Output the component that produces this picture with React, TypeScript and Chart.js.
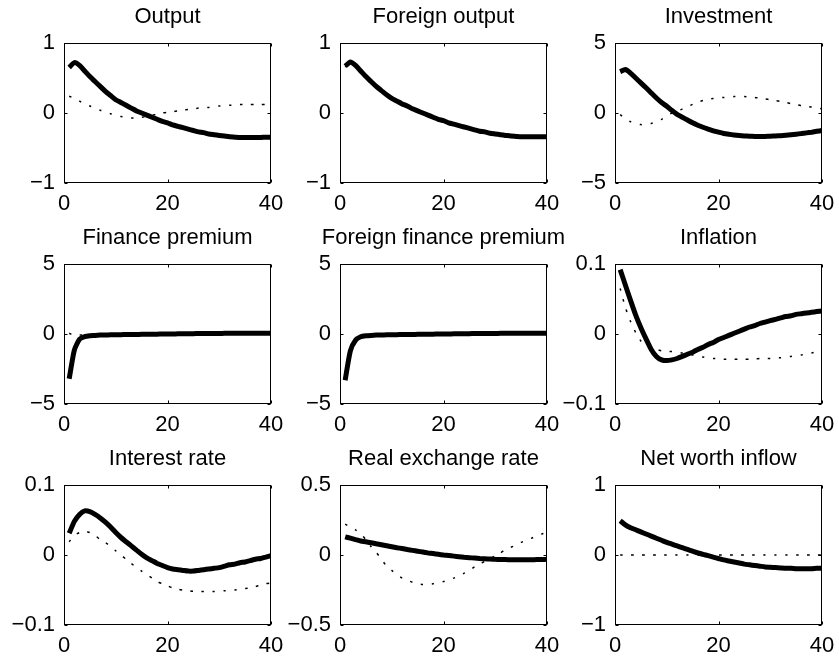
import React, { useEffect, useRef } from 'react';
import { Chart, registerables } from 'chart.js';

Chart.register(...registerables);

const FONT = '"Liberation Sans", Arial, Helvetica, sans-serif';

// ---------- data ----------
const periods = [1, 2, 3, 4, 5, 6, 7, 8, 9, 10, 11, 12, 13, 14, 15, 16, 17, 18, 19, 20, 21, 22, 23, 24, 25, 26, 27, 28, 29, 30, 31, 32, 33, 34, 35, 36, 37, 38, 39, 40];
const xTicks = [0, 20, 40];

const titles = ['Output', 'Foreign output', 'Investment', 'Finance premium', 'Foreign finance premium', 'Inflation', 'Interest rate', 'Real exchange rate', 'Net worth inflow'];

const yTicksOutput = [-1, 0, 1];
const yTicksForeignOutput = [-1, 0, 1];
const yTicksInvestment = [-5, 0, 5];
const yTicksFinance = [-5, 0, 5];
const yTicksForeignFinance = [-5, 0, 5];
const yTicksInflation = [-0.1, 0, 0.1];
const yTicksInterest = [-0.1, 0, 0.1];
const yTicksRer = [-0.5, 0, 0.5];
const yTicksNetWorth = [-1, 0, 1];

const outputSolid = [0.65, 0.72, 0.68, 0.60, 0.52, 0.45, 0.38, 0.31, 0.25, 0.19, 0.15, 0.11, 0.07, 0.03, 0.00, -0.03, -0.06, -0.09, -0.12, -0.14, -0.17, -0.19, -0.21, -0.23, -0.25, -0.27, -0.28, -0.30, -0.31, -0.32, -0.33, -0.34, -0.345, -0.35, -0.35, -0.35, -0.35, -0.35, -0.345, -0.345];
const outputDotted = [0.24, 0.21, 0.17, 0.13, 0.10, 0.07, 0.04, 0.02, -0.01, -0.03, -0.05, -0.06, -0.07, -0.07, -0.06, -0.05, -0.03, -0.02, 0.00, 0.01, 0.02, 0.03, 0.04, 0.05, 0.06, 0.07, 0.08, 0.08, 0.09, 0.10, 0.10, 0.11, 0.11, 0.12, 0.12, 0.12, 0.12, 0.12, 0.12, 0.12];

const foreignOutputSolid = [0.67, 0.73, 0.68, 0.60, 0.52, 0.45, 0.38, 0.32, 0.26, 0.21, 0.17, 0.13, 0.10, 0.06, 0.03, 0.00, -0.03, -0.06, -0.09, -0.11, -0.14, -0.16, -0.18, -0.20, -0.22, -0.24, -0.26, -0.27, -0.29, -0.30, -0.31, -0.32, -0.33, -0.335, -0.34, -0.34, -0.34, -0.34, -0.34, -0.34];
const foreignOutputDotted = [0.66, 0.72, 0.67, 0.59, 0.51, 0.44, 0.37, 0.31, 0.25, 0.20, 0.16, 0.12, 0.09, 0.05, 0.02, -0.01, -0.04, -0.07, -0.10, -0.12, -0.15, -0.17, -0.19, -0.21, -0.23, -0.25, -0.27, -0.28, -0.30, -0.31, -0.32, -0.33, -0.34, -0.345, -0.35, -0.35, -0.35, -0.35, -0.35, -0.35];

const investmentSolid = [2.95, 3.10, 2.85, 2.50, 2.15, 1.80, 1.43, 1.07, 0.75, 0.48, 0.18, -0.10, -0.30, -0.50, -0.70, -0.87, -1.02, -1.15, -1.27, -1.37, -1.46, -1.52, -1.57, -1.61, -1.64, -1.66, -1.67, -1.67, -1.67, -1.66, -1.64, -1.62, -1.59, -1.55, -1.51, -1.47, -1.42, -1.37, -1.31, -1.25];
const investmentDotted = [-0.12, -0.40, -0.62, -0.76, -0.83, -0.82, -0.75, -0.62, -0.45, -0.22, 0.00, 0.12, 0.28, 0.45, 0.62, 0.78, 0.90, 1.00, 1.04, 1.07, 1.11, 1.14, 1.17, 1.19, 1.17, 1.14, 1.11, 1.06, 1.01, 0.95, 0.89, 0.83, 0.75, 0.67, 0.60, 0.52, 0.47, 0.43, 0.37, 0.30];

const financeSolid = [-3.20, -1.15, -0.38, -0.18, -0.12, -0.10, -0.08, -0.07, -0.06, -0.05, -0.045, -0.04, -0.035, -0.03, -0.025, -0.02, -0.015, -0.01, -0.005, 0.00, 0.005, 0.01, 0.015, 0.02, 0.025, 0.03, 0.03, 0.035, 0.04, 0.04, 0.045, 0.045, 0.05, 0.05, 0.05, 0.055, 0.055, 0.06, 0.06, 0.06];
const financeDotted = [0.05, -0.10, -0.08, -0.05, -0.03, -0.02, -0.01, 0.00, 0.00, 0.00, 0.00, 0.00, 0.00, 0.00, 0.00, 0.00, 0.005, 0.005, 0.005, 0.005, 0.01, 0.01, 0.01, 0.01, 0.01, 0.01, 0.015, 0.015, 0.015, 0.015, 0.015, 0.02, 0.02, 0.02, 0.02, 0.02, 0.02, 0.02, 0.02, 0.02];

const foreignFinanceSolid = [-3.30, -1.20, -0.45, -0.20, -0.13, -0.10, -0.08, -0.07, -0.06, -0.05, -0.045, -0.04, -0.035, -0.03, -0.025, -0.02, -0.015, -0.01, -0.005, 0.00, 0.005, 0.01, 0.015, 0.02, 0.025, 0.03, 0.03, 0.035, 0.04, 0.04, 0.045, 0.045, 0.05, 0.05, 0.05, 0.055, 0.055, 0.06, 0.06, 0.06];
const foreignFinanceDotted = [-3.25, -1.15, -0.42, -0.19, -0.12, -0.09, -0.07, -0.06, -0.05, -0.045, -0.04, -0.035, -0.03, -0.025, -0.02, -0.015, -0.01, -0.005, 0.00, 0.005, 0.01, 0.015, 0.02, 0.02, 0.025, 0.03, 0.03, 0.035, 0.035, 0.04, 0.04, 0.045, 0.045, 0.05, 0.05, 0.05, 0.055, 0.055, 0.055, 0.055];

const inflationSolid = [0.092, 0.070, 0.048, 0.027, 0.009, -0.007, -0.022, -0.032, -0.037, -0.038, -0.037, -0.035, -0.032, -0.029, -0.026, -0.022, -0.019, -0.015, -0.012, -0.008, -0.005, -0.002, 0.001, 0.004, 0.007, 0.010, 0.012, 0.015, 0.017, 0.019, 0.021, 0.023, 0.025, 0.026, 0.028, 0.029, 0.030, 0.031, 0.032, 0.033];
const inflationDotted = [0.065, 0.038, 0.018, 0.002, -0.010, -0.016, -0.020, -0.022, -0.024, -0.025, -0.025, -0.026, -0.027, -0.029, -0.030, -0.032, -0.033, -0.034, -0.035, -0.035, -0.036, -0.036, -0.036, -0.036, -0.036, -0.036, -0.036, -0.035, -0.035, -0.035, -0.034, -0.034, -0.033, -0.032, -0.031, -0.030, -0.028, -0.027, -0.025, -0.022];

const interestSolid = [0.031, 0.048, 0.058, 0.063, 0.062, 0.058, 0.053, 0.047, 0.040, 0.032, 0.025, 0.019, 0.013, 0.007, 0.001, -0.004, -0.008, -0.012, -0.015, -0.018, -0.020, -0.021, -0.022, -0.023, -0.023, -0.022, -0.021, -0.020, -0.019, -0.018, -0.016, -0.014, -0.013, -0.011, -0.010, -0.008, -0.006, -0.005, -0.003, -0.001];
const interestDotted = [0.019, 0.028, 0.032, 0.034, 0.032, 0.028, 0.022, 0.018, 0.012, 0.006, 0.000, -0.006, -0.012, -0.018, -0.023, -0.028, -0.033, -0.038, -0.041, -0.044, -0.047, -0.049, -0.050, -0.051, -0.052, -0.052, -0.052, -0.052, -0.052, -0.052, -0.051, -0.051, -0.050, -0.049, -0.048, -0.047, -0.045, -0.043, -0.041, -0.040];

const rerSolid = [0.13, 0.12, 0.11, 0.10, 0.095, 0.088, 0.08, 0.073, 0.066, 0.059, 0.052, 0.046, 0.039, 0.033, 0.027, 0.021, 0.015, 0.01, 0.005, 0.00, -0.004, -0.008, -0.012, -0.016, -0.019, -0.022, -0.025, -0.027, -0.029, -0.031, -0.032, -0.033, -0.034, -0.034, -0.034, -0.034, -0.034, -0.033, -0.032, -0.031];
const rerDotted = [0.22, 0.20, 0.18, 0.15, 0.11, 0.06, 0.02, -0.03, -0.08, -0.11, -0.14, -0.165, -0.18, -0.195, -0.205, -0.21, -0.21, -0.205, -0.195, -0.19, -0.18, -0.165, -0.15, -0.13, -0.11, -0.085, -0.065, -0.045, -0.025, -0.005, 0.015, 0.04, 0.055, 0.07, 0.09, 0.105, 0.12, 0.135, 0.15, 0.16];

const netWorthSolid = [0.49, 0.43, 0.39, 0.36, 0.33, 0.30, 0.27, 0.24, 0.21, 0.18, 0.155, 0.13, 0.105, 0.08, 0.055, 0.03, 0.01, -0.01, -0.03, -0.05, -0.07, -0.085, -0.10, -0.115, -0.13, -0.14, -0.15, -0.16, -0.17, -0.175, -0.18, -0.185, -0.19, -0.19, -0.195, -0.195, -0.195, -0.195, -0.19, -0.19];
const netWorthDotted = [0, 0, 0, 0, 0, 0, 0, 0, 0, 0, 0, 0, 0, 0, 0, 0, 0, 0, 0, 0, 0, 0, 0, 0, 0, 0, 0, 0, 0, 0, 0, 0, 0, 0, 0, 0, 0, 0, 0, 0];

const panels = [
  { title: titles[0], solid: outputSolid, dotted: outputDotted, yTicks: yTicksOutput },
  { title: titles[1], solid: foreignOutputSolid, dotted: foreignOutputDotted, yTicks: yTicksForeignOutput },
  { title: titles[2], solid: investmentSolid, dotted: investmentDotted, yTicks: yTicksInvestment },
  { title: titles[3], solid: financeSolid, dotted: financeDotted, yTicks: yTicksFinance },
  { title: titles[4], solid: foreignFinanceSolid, dotted: foreignFinanceDotted, yTicks: yTicksForeignFinance },
  { title: titles[5], solid: inflationSolid, dotted: inflationDotted, yTicks: yTicksInflation },
  { title: titles[6], solid: interestSolid, dotted: interestDotted, yTicks: yTicksInterest },
  { title: titles[7], solid: rerSolid, dotted: rerDotted, yTicks: yTicksRer },
  { title: titles[8], solid: netWorthSolid, dotted: netWorthDotted, yTicks: yTicksNetWorth },
];

// ---------- layout ----------
const PLOT_LEFTS = [64, 340, 615];
const PLOT_TOPS = [43, 264, 485];
const PLOT_W = 207;
const PLOT_H = 140;
const PAD_L = 64;
const PAD_T = 43;
const PAD_R = 30;
const PAD_B = 40;

function fmt(v: number): string {
  if (v === 0) return '0';
  return v < 0 ? '\u2212' + String(Math.abs(v)) : String(v);
}

const matlabBox = {
  id: 'matlabBox',
  afterDraw(chart: any, _args: any, opts: any) {
    const { ctx, chartArea: a, scales } = chart;
    ctx.save();
    ctx.strokeStyle = '#000';
    ctx.lineWidth = 1;
    const l = Math.round(a.left) + 0.5;
    const t = Math.round(a.top) + 0.5;
    const r = Math.round(a.right) - 0.5;
    const b = Math.round(a.bottom) - 0.5;
    ctx.strokeRect(l, t, r - l, b - t);
    const tl = 3;
    ctx.beginPath();
    scales.x.ticks.forEach((tk: any) => {
      const px = Math.round(scales.x.getPixelForValue(tk.value)) + 0.5;
      ctx.moveTo(px, t); ctx.lineTo(px, t + tl);
      ctx.moveTo(px, b); ctx.lineTo(px, b - tl);
    });
    scales.y.ticks.forEach((tk: any) => {
      const py = Math.round(scales.y.getPixelForValue(tk.value)) + 0.5;
      ctx.moveTo(l, py); ctx.lineTo(l + tl, py);
      ctx.moveTo(r, py); ctx.lineTo(r - tl, py);
    });
    ctx.stroke();
    ctx.fillStyle = '#000';
    ctx.font = '22px ' + FONT;
    ctx.textAlign = 'center';
    ctx.textBaseline = 'alphabetic';
    ctx.fillText(opts.title, (a.left + a.right) / 2, a.top - 20);
    ctx.restore();
  },
};

function Panel({ idx }: { idx: number }) {
  const ref = useRef<HTMLCanvasElement | null>(null);
  const p = panels[idx];
  const col = idx % 3;
  const row = Math.floor(idx / 3);
  const left = PLOT_LEFTS[col] - PAD_L;
  const top = PLOT_TOPS[row] - PAD_T;
  const w = PAD_L + PLOT_W + PAD_R;
  const h = PAD_T + PLOT_H + PAD_B;

  useEffect(() => {
    if (!ref.current) return;
    const yMin = p.yTicks[0];
    const yMax = p.yTicks[p.yTicks.length - 1];
    const chart = new Chart(ref.current, {
      type: 'line',
      data: {
        datasets: [
          {
            data: periods.map((x, i) => ({ x, y: p.solid[i] })),
            borderColor: '#000',
            borderWidth: 5,
            borderJoinStyle: 'round',
            pointRadius: 0,
            tension: 0.2,
            fill: false,
          },
          {
            data: periods.map((x, i) => ({ x, y: p.dotted[i] })),
            borderColor: '#000',
            borderWidth: 1.5,
            borderDash: [2.5, 8.5],
            pointRadius: 0,
            tension: 0.2,
            fill: false,
          },
        ],
      },
      options: {
        animation: false,
        responsive: false,
        maintainAspectRatio: false,
        layout: { padding: { left: 0, top: PAD_T, right: PAD_R, bottom: 0 } },
        plugins: {
          legend: { display: false },
          tooltip: { enabled: false },
          title: { display: false },
          matlabBox: { title: p.title },
        } as any,
        scales: {
          x: {
            type: 'linear',
            min: 0,
            max: 40,
            grid: { display: false, drawTicks: false },
            border: { display: false },
            afterBuildTicks: (s: any) => { s.ticks = xTicks.map((v) => ({ value: v })); },
            afterFit: (s: any) => { s.height = PAD_B; },
            ticks: {
              color: '#000',
              font: { family: FONT, size: 22 },
              padding: 8,
              maxRotation: 0,
              autoSkip: false,
              callback: (v: any) => fmt(Number(v)),
            },
          },
          y: {
            type: 'linear',
            min: yMin,
            max: yMax,
            grid: { display: false, drawTicks: false },
            border: { display: false },
            afterBuildTicks: (s: any) => { s.ticks = p.yTicks.map((v) => ({ value: v })); },
            afterFit: (s: any) => { s.width = PAD_L; },
            ticks: {
              color: '#000',
              font: { family: FONT, size: 22 },
              padding: 9,
              autoSkip: false,
              callback: (v: any) => fmt(Number(v)),
            },
          },
        },
      },
      plugins: [matlabBox],
    });
    return () => chart.destroy();
  }, [idx]);

  return (
    <canvas
      ref={ref}
      width={w}
      height={h}
      style={{ position: 'absolute', left, top, width: w, height: h, display: 'block' }}
    />
  );
}

export default function App() {
  return (
    <div
      style={{
        position: 'fixed',
        left: 0,
        top: 0,
        width: 839,
        height: 660,
        overflow: 'hidden',
        background: '#fff',
      }}
    >
      {panels.map((_, i) => (
        <Panel key={i} idx={i} />
      ))}
    </div>
  );
}
